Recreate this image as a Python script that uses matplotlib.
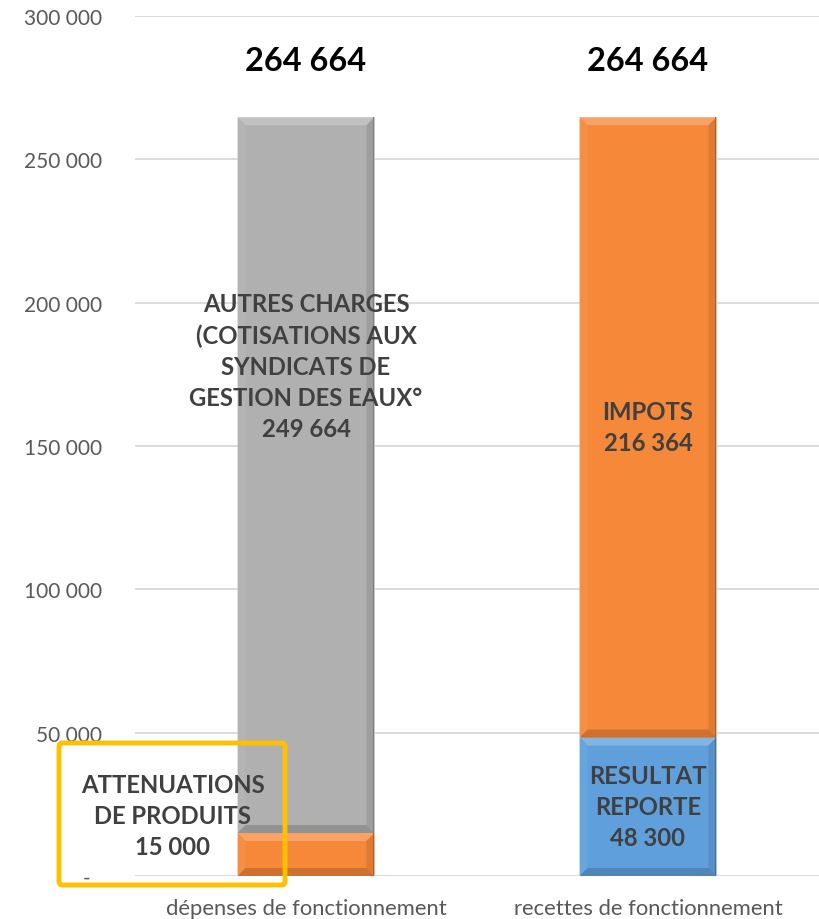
import matplotlib
matplotlib.use("Agg")
import matplotlib.pyplot as plt
import numpy as np
from matplotlib.patches import Polygon, FancyBboxPatch
from matplotlib.colors import to_rgb

plt.rcParams['font.family'] = ['Lato', 'DejaVu Sans']

categories = ["dépenses de fonctionnement", "recettes de fonctionnement"]
bottom_values = [15000, 48300]
top_values = [249664, 216364]
bottom_labels = ["ATTENUATIONS\nDE PRODUITS\n15 000", "RESULTAT\nREPORTE\n48 300"]
top_labels = ["AUTRES CHARGES\n(COTISATIONS AUX\nSYNDICATS DE\nGESTION DES EAUX°\n249 664", "IMPOTS\n216 364"]
totals = [264664, 264664]
total_labels = ["264 664", "264 664"]
bottom_colors = ["#F6883A", "#5FA0DC"]
top_colors = ["#B0B0B0", "#F6883A"]
yticks = [0, 50000, 100000, 150000, 200000, 250000, 300000]
ytick_labels = ["-  ", "50 000", "100 000", "150 000", "200 000", "250 000", "300 000"]

W, H = 819, 920
fig = plt.figure(figsize=(W / 100, H / 100), dpi=100)
ax = fig.add_axes([135 / W, 1 - 877 / H, (819 - 135) / W, (877 - 17) / H])
x = np.arange(len(categories))
width = 0.4

b1 = ax.bar(x, bottom_values, width, color=bottom_colors, edgecolor="#e8e8e8", linewidth=0.8, zorder=2)
b2 = ax.bar(x, top_values, width, bottom=bottom_values, color=top_colors, edgecolor="#e8e8e8", linewidth=0.8, zorder=2)

ax.set_xlim(-0.5, 1.5)
ax.set_ylim(0, 300000)
ax.set_yticks(yticks)
ax.set_yticklabels(ytick_labels)
ax.set_xticks(x)
ax.set_xticklabels(categories)
ax.yaxis.grid(True, color="#D9D9D9", linewidth=1.3, zorder=0)
ax.set_axisbelow(True)
for s in ax.spines.values():
    s.set_visible(False)
ax.tick_params(axis="both", length=0, colors="#595959")
ax.tick_params(axis="y", pad=24, labelsize=15)
ax.tick_params(axis="x", pad=16, labelsize=15.8)


def shade(c, f):
    r = np.array(to_rgb(c))
    if f > 0:
        return tuple(r + (1 - r) * f)
    return tuple(r * (1 + f))


fig.canvas.draw()
inv = ax.transData.inverted()
d = 8
for bars in (b1, b2):
    for p in bars:
        bb = p.get_window_extent()
        x0, y0, x1, y1 = bb.x0, bb.y0, bb.x1, bb.y1
        c = p.get_facecolor()
        dd = min(d, (y1 - y0) / 2)
        faces = [
            ([(x0, y1), (x1, y1), (x1 - d, y1 - dd), (x0 + d, y1 - dd)], shade(c, 0.22)),
            ([(x0, y0), (x0, y1), (x0 + d, y1 - dd), (x0 + d, y0 + dd)], shade(c, 0.05)),
            ([(x1, y0), (x1, y1), (x1 - d, y1 - dd), (x1 - d, y0 + dd)], shade(c, -0.1)),
            ([(x0, y0), (x1, y0), (x1 - d, y0 + dd), (x0 + d, y0 + dd)], shade(c, -0.17)),
        ]
        for pts, col in faces:
            dpts = inv.transform(pts)
            ax.add_patch(Polygon(dpts, closed=True, facecolor=col, edgecolor="none", zorder=3))
        ax.add_patch(Polygon(inv.transform([(x1 - 1.5, y0), (x1, y0), (x1, y1), (x1 - 1.5, y1)]),
                             closed=True, facecolor=shade(c, -0.3), edgecolor="none", zorder=3))

lab_kw = dict(ha="center", va="center", fontsize=17.2, fontweight="bold", color="#404040",
              linespacing=1.42, zorder=5)
ax.text(x[0] - 0.39, bottom_values[0] + 6000, bottom_labels[0], **lab_kw)
ax.text(x[1], bottom_values[1] / 2, bottom_labels[1], **lab_kw)
ax.text(x[0], bottom_values[0] + top_values[0] / 2 + 38000, top_labels[0], **lab_kw)
ax.text(x[1], bottom_values[1] + top_values[1] / 2, top_labels[1], **lab_kw)
for xi, t, tl in zip(x, totals, total_labels):
    ax.text(xi, t + 19800, tl, ha="center", va="center", fontsize=23.4, fontweight="bold",
            color="black", zorder=5)

box = FancyBboxPatch((59 / W, 1 - 886 / H), 226 / W, 142 / H,
                     boxstyle="round,pad=0,rounding_size=0.004",
                     transform=fig.transFigure, facecolor="none",
                     edgecolor="#FFC000", linewidth=3.5, zorder=10)
fig.patches.append(box)

fig.savefig("out.png", dpi=100)
